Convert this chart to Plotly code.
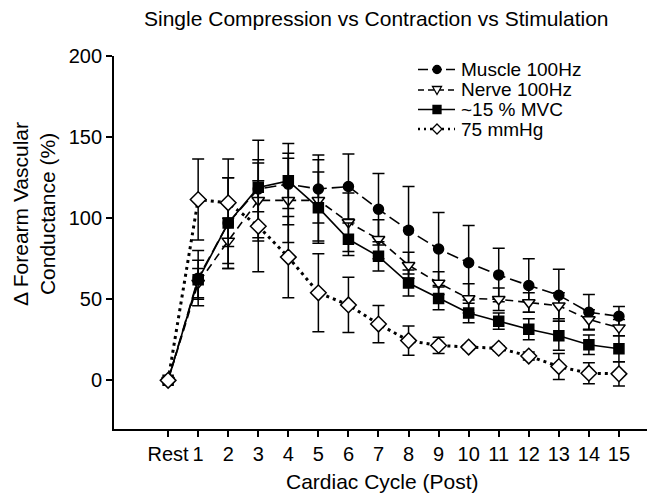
import plotly.graph_objects as go

cycle_labels = ["Rest"] + [str(i) for i in range(1, 16)]
cycle_pos = list(range(0, 16))

muscle = [0, 63, 97, 118, 121, 118, 119.5, 105.5, 92.5, 81, 72.5, 65, 58.5, 52.5, 42, 39.5]
muscle_err = [0, 17, 28, 30, 25, 21, 20, 22, 27, 22.5, 23, 16.5, 16.5, 16, 11, 6]

nerve = [0, 60, 86, 111, 111, 111, 97.5, 87, 71, 60, 50.5, 50, 48, 46, 37.5, 32.5]
nerve_err = [0, 9, 14, 25, 26, 25, 18, 12, 8, 7, 9, 7, 6, 8, 6, 5]

mvc = [0, 62, 97, 119, 123, 106.5, 87, 76.5, 60, 50.5, 41.5, 36.5, 31.5, 27.5, 22, 19.5]
mvc_err = [0, 12, 28, 15, 17, 22, 10, 9, 8, 7, 6, 5, 6.5, 9, 6, 8]

cuff = [0, 111.5, 109.5, 95, 76, 54, 46.5, 34.7, 24.5, 21.5, 20.5, 19.8, 15, 8.5, 4.4, 4]
cuff_err = [0, 25, 27, 28, 25, 24, 17, 11.5, 9, 5, 1.5, 1.5, 2.5, 8, 6.5, 7.5]

series_names = ["Muscle 100Hz", "Nerve 100Hz", "~15 % MVC", "75 mmHg"]

FONT = "Liberation Sans, Arial, Helvetica, sans-serif"

# figure geometry (page body adds an 8px offset)
W, H = 647, 485
ML, MR, MT, MB = 106, 3, 48, 64
PW, PH = W - ML - MR, H - MT - MB

def px(fx):
    return (fx - ML) / PW

def py(fy):
    return (H - MB - fy) / PH

styles = [
    dict(dash="12px,5px", lw=1.6, sym="circle", fill="black", size=10),
    dict(dash="8px,5px", lw=1.6, sym="triangle-down", fill="white", size=11),
    dict(dash="solid", lw=1.6, sym="square", fill="black", size=10),
    dict(dash="3px,4px", lw=3, sym="diamond", fill="white", size=12),
]
datasets = [(muscle, muscle_err), (nerve, nerve_err), (mvc, mvc_err), (cuff, cuff_err)]

fig = go.Figure()
for name, (vals, errs), st in zip(series_names, datasets, styles):
    fig.add_trace(go.Scatter(
        x=cycle_pos, y=vals, name=name, mode="lines+markers", showlegend=False,
        line=dict(color="black", width=st["lw"], dash=st["dash"]),
        marker=dict(symbol=st["sym"], color=st["fill"], size=st["size"],
                    line=dict(color="black", width=1.5)),
        error_y=dict(type="data", array=errs, visible=True, color="black", thickness=1.5, width=6),
    ))

# hand-built legend (compact rows like the reference)
shapes = []
annotations = []
row_y = [61.5, 82, 101.5, 121]
lx0, lx1, mx, tx = px(410), px(447), px(429), px(452)
legend_dash = ["10px,4px", "6px,4px", "solid", "2px,4px"]
legend_lw = [1.6, 1.6, 1.6, 2.6]
for i, name in enumerate(series_names):
    yy = py(row_y[i])
    shapes.append(dict(type="line", xref="paper", yref="paper", x0=lx0, x1=lx1, y0=yy, y1=yy,
                       line=dict(color="black", width=legend_lw[i], dash=legend_dash[i])))
    mk = dict(xref="paper", yref="paper", xsizemode="pixel", ysizemode="pixel",
              xanchor=mx, yanchor=yy, line=dict(color="black", width=1.3))
    if i == 0:
        shapes.append(dict(type="circle", x0=-4, x1=4, y0=-4, y1=4, fillcolor="black", **mk))
    elif i == 1:
        shapes.append(dict(type="path", path="M -4.5 3.5 L 4.5 3.5 L 0 -4.5 Z", fillcolor="white", **mk))
    elif i == 2:
        shapes.append(dict(type="rect", x0=-4, x1=4, y0=-4, y1=4, fillcolor="black", **mk))
    else:
        shapes.append(dict(type="path", path="M 0 5 L 5 0 L 0 -5 L -5 0 Z", fillcolor="white", **mk))
    annotations.append(dict(text=name, xref="paper", yref="paper", x=tx, y=yy,
                            xanchor="left", yanchor="middle", showarrow=False,
                            borderpad=0, font=dict(size=19)))

annotations += [
    dict(text="Single Compression vs Contraction vs Stimulation", xref="paper", yref="paper",
         x=px(368), y=1.0, yshift=38, xanchor="center", yanchor="middle", showarrow=False,
         font=dict(size=21)),
    dict(text="Cardiac Cycle (Post)", xref="paper", yref="paper",
         x=px(374.5), y=0, yshift=-52, xanchor="center", yanchor="middle", showarrow=False,
         font=dict(size=21)),
    dict(text="\u0394 Forearm Vascular<br>Conductance (%)", xref="paper", yref="paper",
         x=0, xshift=-80, y=py(206), xanchor="center", yanchor="middle",
         textangle=-90, showarrow=False, font=dict(size=21)),
]

fig.update_layout(
    width=W, height=H,
    margin=dict(l=ML, r=MR, t=MT, b=MB),
    paper_bgcolor="white", plot_bgcolor="white",
    font=dict(family=FONT, size=20, color="black"),
    showlegend=False,
    xaxis=dict(range=[-1.8, 16.1], tickmode="array", tickvals=cycle_pos, ticktext=cycle_labels,
               showline=True, linecolor="black", linewidth=1.8, ticks="outside", ticklen=6,
               tickwidth=1.5, tickcolor="black", showgrid=False, zeroline=False,
               tickfont=dict(size=20)),
    yaxis=dict(range=[-30, 200], tickmode="array", tickvals=[0, 50, 100, 150, 200],
               showline=True, linecolor="black", linewidth=1.8, ticks="outside", ticklen=6,
               tickwidth=1.5, tickcolor="black", showgrid=False, zeroline=False,
               tickfont=dict(size=20)),
    shapes=shapes,
    annotations=annotations,
)

fig.write_html("out.html")
